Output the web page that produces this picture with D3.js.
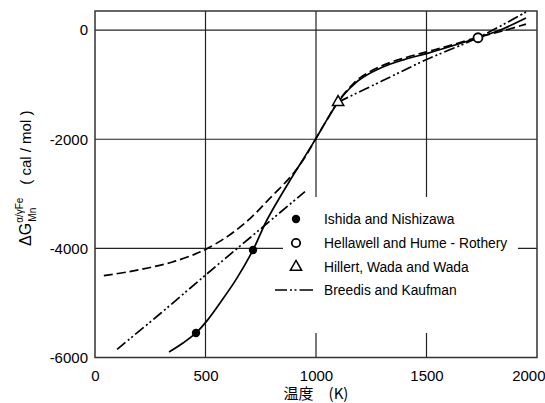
<!DOCTYPE html>
<html><head><meta charset="utf-8">
<script src="https://cdn.jsdelivr.net/npm/d3@7/dist/d3.min.js"></script>
<style>body{margin:0;background:#fff}svg{display:block}text{font-family:"Liberation Sans",Arial,sans-serif;fill:#000}</style>
</head><body><svg id="c" width="545" height="403"></svg>
<script>
const xTicks = [0, 500, 1000, 1500, 2000];
const yTicks = [0, -2000, -4000, -6000];
const solidCurve = [[335,-5900],[400,-5730],[457,-5550],[510,-5310],[566,-5000],[640,-4560],[715,-4030],[778,-3480],[880,-2770],[940,-2380],[1000,-1985],[1050,-1640],[1100,-1320],[1150,-1080],[1200,-900],[1300,-680],[1400,-540],[1500,-430],[1600,-310],[1733,-140],[1850,30],[1950,220]];
const dashedCurve = [[40,-4500],[150,-4430],[250,-4350],[350,-4250],[450,-4110],[500,-4020],[600,-3780],[700,-3460],[792,-3080],[891,-2660],[950,-2330],[1000,-1985],[1050,-1640],[1100,-1310],[1150,-1060],[1200,-870],[1300,-650],[1400,-510],[1500,-400],[1600,-290],[1733,-130],[1850,-10],[1950,110]];
const breedisLow = [[100,-5850],[300,-5180],[500,-4490],[700,-3810],[950,-2960]];
const breedisHigh = [[1100,-1320],[1300,-930],[1500,-540],[1733,-138],[1950,330]];
const ishidaPts = [[457,-5550],[715,-4030]];
const hellawellPts = [[1733,-140]];
const hillertPts = [[1100,-1320]];
const legendLabels = ["Ishida and Nishizawa","Hellawell and Hume - Rothery","Hillert, Wada and Wada","Breedis and Kaufman"];

const svg = d3.select("#c");
const x = d3.scaleLinear().domain([0,2000]).range([95,537]);
const y = d3.scaleLinear().domain([-6000,350]).range([357.5,11]);

// grid
const g = svg.append("g");
g.selectAll(".vg").data(xTicks.slice(1,-1)).enter().append("line")
 .attr("x1",d=>x(d)).attr("x2",d=>x(d)).attr("y1",y(350)).attr("y2",y(-6000))
 .attr("stroke","#222").attr("stroke-width",1.2);
g.selectAll(".hg").data(yTicks.slice(0,-1)).enter().append("line")
 .attr("x1",x(0)).attr("x2",x(2000)).attr("y1",d=>y(d)).attr("y2",d=>y(d))
 .attr("stroke","#222").attr("stroke-width",1.2);
svg.append("rect").attr("x",x(0)).attr("y",y(350)).attr("width",x(2000)-x(0)).attr("height",y(-6000)-y(350))
 .attr("fill","none").attr("stroke","#333").attr("stroke-width",1.5);

// legend background
svg.append("rect").attr("x",283).attr("y",197).attr("width",235).attr("height",136).attr("fill","#fff");

// axes labels
const fmt = d => String(d);
const xa = d3.axisBottom(x).tickValues(xTicks).tickSize(0).tickPadding(0).tickFormat(fmt);
const xg = svg.append("g").attr("transform",`translate(0,${y(-6000)})`).call(xa);
xg.select(".domain").remove();
xg.selectAll("text").attr("y",0).attr("dy","23px").style("font-size","15px").style("font-family","Liberation Sans, Arial, sans-serif").attr("fill","#000");
xg.selectAll(".tick").filter(d=>d===2000).select("text").attr("text-anchor","end").attr("dx","8px");
const ya = d3.axisLeft(y).tickValues(yTicks).tickSize(0).tickPadding(7).tickFormat(fmt);
const yg = svg.append("g").attr("transform",`translate(${x(0)},0)`).call(ya);
yg.select(".domain").remove();
yg.selectAll("text").style("font-size","15px").style("font-family","Liberation Sans, Arial, sans-serif").attr("fill","#000");

svg.append("text").attr("x",316).attr("y",399).attr("text-anchor","middle").style("font-size","15px")
 .style("font-family","'Noto Sans CJK JP','Liberation Sans',sans-serif").text("温度　(K)");

const yl = svg.append("text").attr("transform","translate(31,246) rotate(-90)").attr("text-anchor","start");
yl.append("tspan").style("font-size","16px").text("ΔG");
yl.append("tspan").style("font-size","10px").attr("dy",-8).text("α/γFe");
yl.append("tspan").style("font-size","10px").attr("dx",-24).attr("dy",13).text("Mn");
yl.append("tspan").style("font-size","15px").attr("dx",23).attr("dy",-5).text("( cal / mol )");

// curves
const line = d3.line().x(d=>x(d[0])).y(d=>y(d[1])).curve(d3.curveCatmullRom.alpha(0.5));
const cg = svg.append("g").attr("fill","none").attr("stroke","#000").attr("stroke-width",1.7);
cg.append("path").attr("d",line(solidCurve));
cg.append("path").attr("d",line(dashedCurve)).attr("stroke-dasharray","9,4");
const bkDash = "11,3,2,2.5,2,3";
cg.append("path").attr("d",line(breedisLow)).attr("stroke-dasharray",bkDash);
cg.append("path").attr("d",line(breedisHigh)).attr("stroke-dasharray",bkDash);

// markers
svg.selectAll(".ish").data(ishidaPts).enter().append("circle")
 .attr("cx",d=>x(d[0])).attr("cy",d=>y(d[1])).attr("r",4.2).attr("fill","#000");
svg.selectAll(".hel").data(hellawellPts).enter().append("circle")
 .attr("cx",d=>x(d[0])).attr("cy",d=>y(d[1])).attr("r",4.5).attr("fill","#fff").attr("stroke","#000").attr("stroke-width",1.8);
const tri = d3.symbol().type(d3.symbolTriangle).size(55);
svg.selectAll(".hil").data(hillertPts).enter().append("path")
 .attr("transform",d=>`translate(${x(d[0])},${y(d[1])})`).attr("d",tri).attr("fill","#fff").attr("stroke","#000").attr("stroke-width",1.5);

// legend
const ly = [219,243,267,290];
const lg = svg.append("g");
lg.append("circle").attr("cx",296).attr("cy",ly[0]).attr("r",4.2).attr("fill","#000");
lg.append("circle").attr("cx",296).attr("cy",ly[1]).attr("r",4.2).attr("fill","#fff").attr("stroke","#000").attr("stroke-width",1.8);
lg.append("path").attr("transform",`translate(296,${ly[2]})`).attr("d",tri).attr("fill","#fff").attr("stroke","#000").attr("stroke-width",1.5);
lg.append("line").attr("x1",275).attr("x2",313).attr("y1",ly[3]).attr("y2",ly[3]).attr("stroke","#000").attr("stroke-width",1.7).attr("stroke-dasharray","12,3,2,2.5,2,3,14");
lg.selectAll("text").data(legendLabels).enter().append("text")
 .attr("x",324).attr("y",(d,i)=>ly[i]).attr("dy","0.36em").style("font-size","13.8px").text(d=>d);
</script></body></html>
